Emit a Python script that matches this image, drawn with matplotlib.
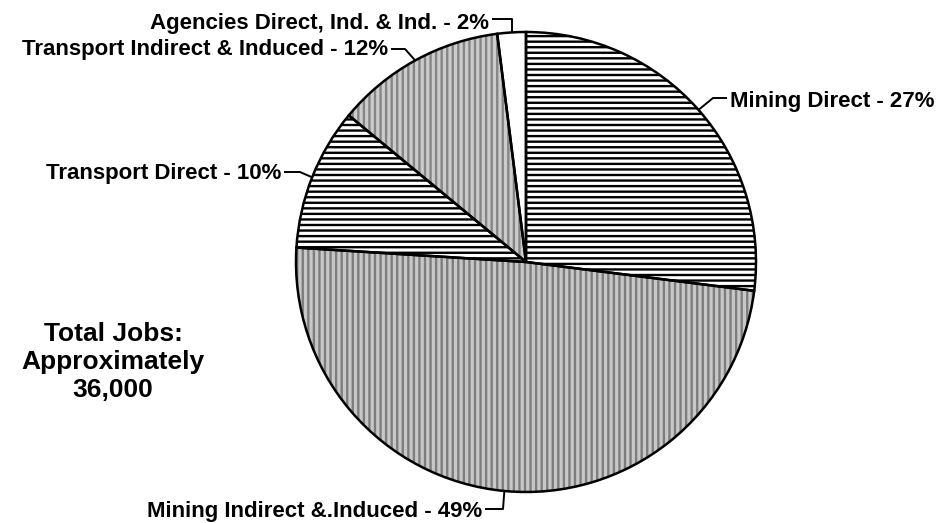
import numpy as np
import matplotlib
matplotlib.use("Agg")
import matplotlib.pyplot as plt

# job shares, clockwise from 12 o'clock
labels = ["Mining Direct - 27%",
          "Mining Indirect &.Induced - 49%",
          "Transport Direct - 10%",
          "Transport Indirect & Induced - 12%",
          "Agencies Direct, Ind. & Ind. - 2%"]
shares = [27, 49, 10, 12, 2]
total_text = "Total Jobs:\nApproximately\n36,000"

fills = ["white", "#c8c8c8", "white", "#cccccc", "white"]
hatch_cols = ["black", "#7d7d7d", "black", "#858585", "white"]
hatches = ["---", "|||", "---", "|||", ""]

W, H = 945, 523
CX, CY, R = 526, 262, 230   # pie centre / radius in pixels


def px(x, y):
    # pixel position (from top-left) -> data coords of a unit pie
    return (x - CX) / R, (CY - y) / R


plt.rcParams["font.family"] = ["Liberation Sans", "DejaVu Sans"]
plt.rcParams["hatch.linewidth"] = 1.7

fig = plt.figure(figsize=(W / 100, H / 100), dpi=100)
ax = fig.add_axes([0, 0, 1, 1])

wedges, _ = ax.pie(shares, startangle=90, counterclock=False, colors=fills,
                   hatch=hatches, wedgeprops=dict(linewidth=0))
for w, hc in zip(wedges, hatch_cols):
    w.set_edgecolor(hc)
# black outlines on top
ax.pie(shares, startangle=90, counterclock=False,
       wedgeprops=dict(facecolor="none", edgecolor="black", linewidth=1.8))

ax.set_xlim(-CX / R, (W - CX) / R)
ax.set_ylim(-(H - CY) / R, CY / R)
ax.set_aspect("equal")
ax.axis("off")


def edge(w):
    a = np.deg2rad((w.theta1 + w.theta2) / 2)
    return np.cos(a), np.sin(a)


# (leader knee points in px, text anchor px, ha)
layout = [
    ([(713, 98), (727, 98)], (730, 101), "left"),
    ([(503, 509), (485, 509)], (482, 512), "right"),
    ([(300, 172), (284, 172)], (281, 174), "right"),
    ([(405, 49), (391, 49)], (388, 50), "right"),
    (None, (489, 23), "right"),
]

for w, lab, (knees, tpos, ha) in zip(wedges, labels, layout):
    ex, ey = edge(w)
    if knees is None:
        knees = [((ex * R) + CX, 19), (492, 19)]
    pts = [(ex, ey)] + [px(*k) for k in knees]
    xs, ys = zip(*pts)
    ax.plot(xs, ys, color="black", lw=1.4, solid_capstyle="butt")
    ax.text(*px(*tpos), lab, ha=ha, va="center", fontsize=16,
            fontweight="bold")

ax.text(*px(113, 362), total_text, ha="center", va="center", fontsize=19,
        fontweight="bold", linespacing=1.2)

fig.savefig("out.png", dpi=100)
